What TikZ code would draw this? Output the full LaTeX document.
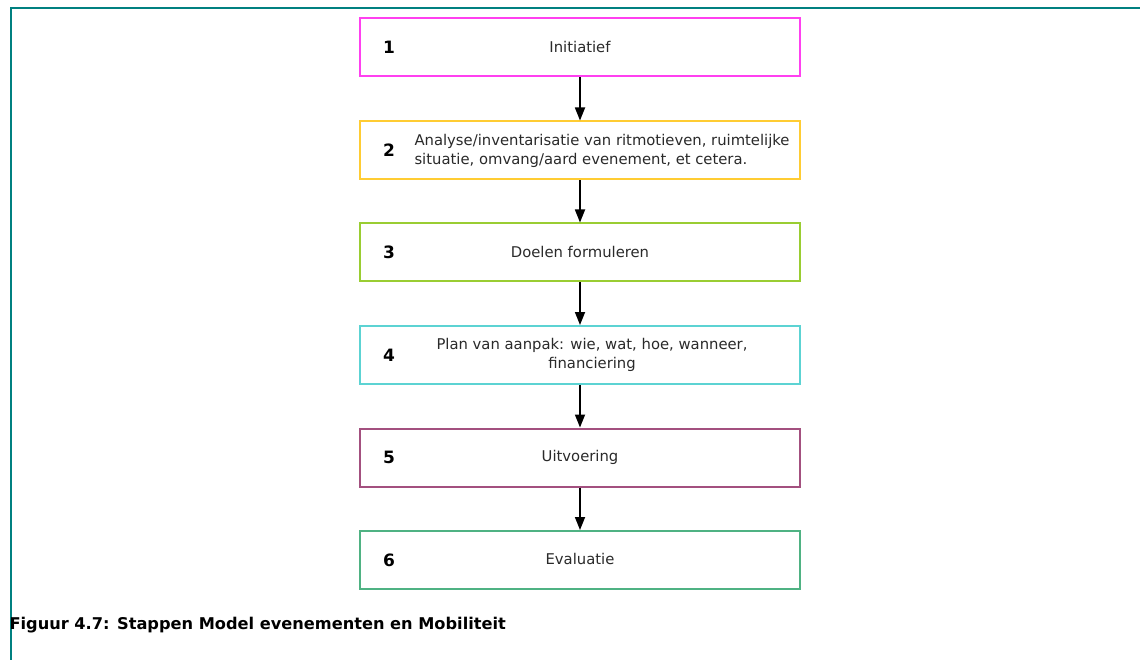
\documentclass[tikz,border=0pt]{standalone}
\usepackage{fontspec}
\setmainfont{DejaVu Sans}
\usetikzlibrary{arrows.meta}
\definecolor{frameteal}{HTML}{008080}
\definecolor{cA}{HTML}{FF40F0}
\definecolor{cB}{HTML}{FFCC33}
\definecolor{cC}{HTML}{9ACD32}
\definecolor{cD}{HTML}{5CD3D3}
\definecolor{cE}{HTML}{A3507F}
\definecolor{cF}{HTML}{4FB283}
\definecolor{txt}{HTML}{2A2A2A}
\begin{document}
\begin{tikzpicture}[x=1pt,y=-1pt,
  stepbox/.style={draw=#1, line width=2pt, fill=white, minimum width=440pt,
    minimum height=58pt, inner sep=0pt},
  stepnum/.style={font=\bfseries\fontsize{17}{19}\selectfont, text=black},
  steptext/.style={font=\fontsize{14.8}{19}\selectfont, text=txt},
  flow/.style={line width=1.7pt, -{Triangle[width=10pt,length=13pt]}}]
\useasboundingbox (0,0) rectangle (1140,660);
% outer frame: top and left rules only
\draw[frameteal, line width=2.2pt] (11,660) -- (11,8) -- (1140,8);

% step boxes
\node[stepbox=cA] (s1) at (580,47.5) {};
\node[stepbox=cB] (s2) at (580,150.5) {};
\node[stepbox=cC] (s3) at (580,252.5) {};
\node[stepbox=cD] (s4) at (580,355) {};
\node[stepbox=cE] (s5) at (580,457.5) {};
\node[stepbox=cF] (s6) at (580,560) {};

% step numbers
\node[stepnum] (n1) at (389,47.5) {1};
\node[stepnum] (n2) at (389,150.5) {2};
\node[stepnum] (n3) at (389,252.5) {3};
\node[stepnum] (n4) at (389,355) {4};
\node[stepnum] (n5) at (389,457.5) {5};
\node[stepnum] (n6) at (389,560) {6};

% step descriptions
\node[steptext] (t1) at (580,47) {Initiatief};
\node[steptext, align=left, anchor=west] (t2) at (411,150.5)
  {Analyse/inventarisatie van ritmotieven, ruimtelijke\\situatie, omvang/aard evenement, et cetera.};
\node[steptext] (t3) at (580,252) {Doelen formuleren};
\node[steptext, align=center] (t4) at (592,355)
  {Plan van aanpak: wie, wat, hoe, wanneer,\\financiering};
\node[steptext] (t5) at (580,457) {Uitvoering};
\node[steptext] (t6) at (580,559) {Evaluatie};

% connectors
\draw[flow] (s1.south) -- (s2.north);
\draw[flow] (s2.south) -- (s3.north);
\draw[flow] (s3.south) -- (s4.north);
\draw[flow] (s4.south) -- (s5.north);
\draw[flow] (s5.south) -- (s6.north);

% caption
\node[anchor=west, font=\bfseries\fontsize{16.2}{18}\selectfont, text=black] (cap) at (6,625)
  {Figuur 4.7: Stappen Model evenementen en Mobiliteit};
\end{tikzpicture}
\end{document}
